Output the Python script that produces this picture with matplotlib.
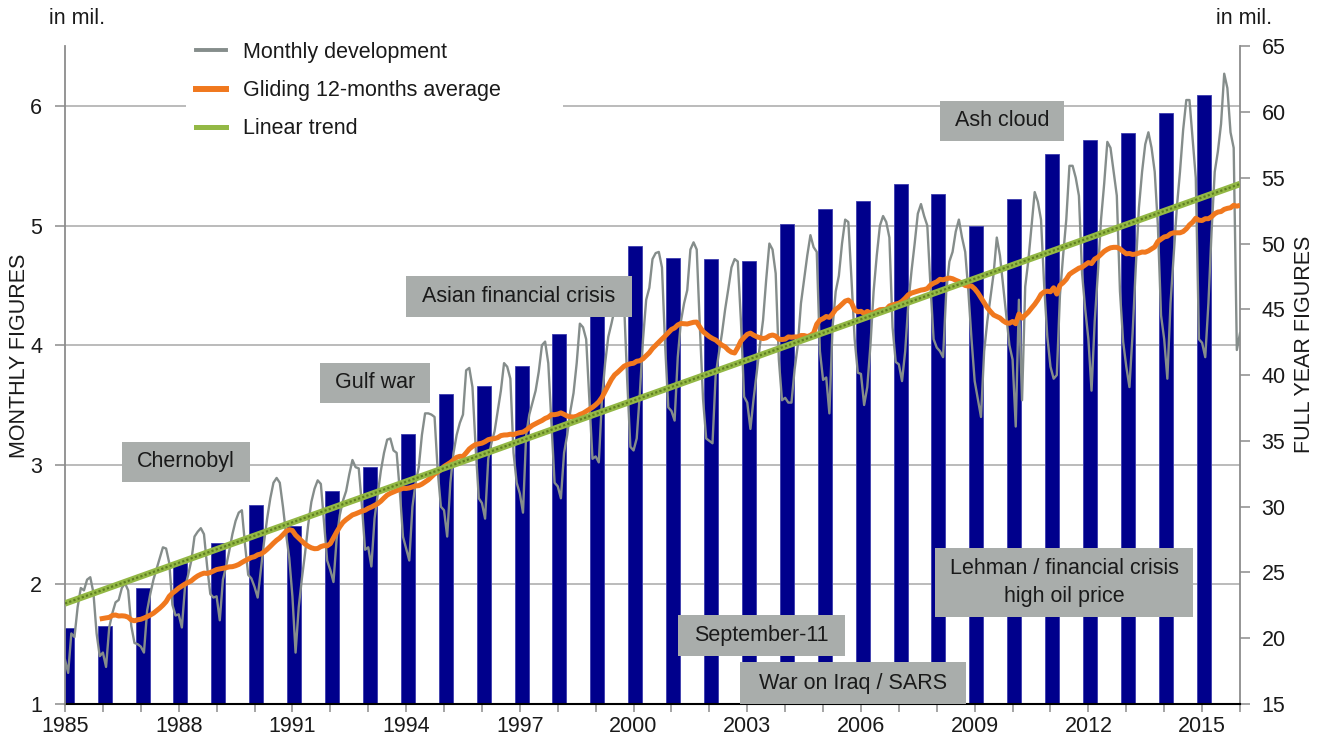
import numpy as np
import pandas as pd
import matplotlib
matplotlib.use('Agg')
import matplotlib.pyplot as plt
import matplotlib.transforms as mtransforms
from matplotlib.patches import Rectangle
from matplotlib.lines import Line2D

plt.rcParams['font.family'] = ['Liberation Sans', 'DejaVu Sans']

# ---- data ----
years = np.arange(1985, 2016)
# full year figures, in mil. (right axis)
annual = [20.8, 20.9, 23.8, 25.7, 27.2, 30.1, 28.5, 31.2, 33.0, 35.5,
          38.6, 39.2, 40.7, 43.1, 44.5, 49.8, 48.9, 48.8, 48.7, 51.5,
          52.6, 53.2, 54.5, 53.8, 51.3, 53.4, 56.8, 57.9, 58.4, 59.9, 61.3]

# monthly figures, in mil. (left axis), Jan..Dec
monthly_by_year = [
    [1.37, 1.26, 1.59, 1.56, 1.81, 1.97, 1.95, 2.04, 2.06, 1.93, 1.59, 1.40],  # 1985
    [1.43, 1.31, 1.64, 1.76, 1.85, 1.87, 1.97, 2.01, 1.95, 1.65, 1.51, 1.50],  # 1986
    [1.48, 1.43, 1.78, 1.92, 2.04, 2.13, 2.22, 2.31, 2.30, 2.18, 1.83, 1.74],  # 1987
    [1.75, 1.64, 1.98, 2.08, 2.20, 2.40, 2.44, 2.47, 2.42, 2.15, 1.92, 1.89],  # 1988
    [1.90, 1.70, 2.04, 2.15, 2.28, 2.42, 2.53, 2.60, 2.62, 2.33, 2.08, 2.05],  # 1989
    [1.98, 1.89, 2.12, 2.35, 2.55, 2.72, 2.85, 2.89, 2.85, 2.65, 2.42, 2.22],  # 1990
    [1.90, 1.43, 1.81, 2.05, 2.26, 2.50, 2.69, 2.80, 2.87, 2.84, 2.52, 2.20],  # 1991
    [2.12, 2.02, 2.38, 2.58, 2.70, 2.78, 2.92, 3.04, 2.98, 2.97, 2.66, 2.29],  # 1992
    [2.31, 2.15, 2.55, 2.75, 2.95, 3.10, 3.21, 3.22, 3.12, 3.10, 2.78, 2.40],  # 1993
    [2.30, 2.20, 2.65, 2.85, 2.98, 3.25, 3.43, 3.43, 3.42, 3.40, 2.95, 2.65],  # 1994
    [2.62, 2.40, 2.85, 3.10, 3.25, 3.35, 3.42, 3.79, 3.81, 3.65, 3.15, 2.72],  # 1995
    [2.68, 2.55, 3.05, 3.18, 3.28, 3.45, 3.62, 3.85, 3.82, 3.72, 3.10, 2.85],  # 1996
    [2.76, 2.60, 3.25, 3.42, 3.52, 3.62, 3.78, 4.00, 4.03, 3.85, 3.35, 2.85],  # 1997
    [2.82, 2.72, 3.10, 3.25, 3.45, 3.60, 3.85, 4.18, 4.15, 4.05, 3.55, 3.05],  # 1998
    [3.07, 3.02, 3.55, 3.85, 4.07, 4.18, 4.30, 4.45, 4.45, 4.35, 3.70, 3.15],  # 1999
    [3.12, 3.22, 3.60, 4.05, 4.38, 4.48, 4.72, 4.77, 4.78, 4.65, 4.00, 3.48],  # 2000
    [3.45, 3.37, 3.90, 4.20, 4.35, 4.46, 4.80, 4.86, 4.80, 4.15, 3.55, 3.22],  # 2001
    [3.20, 3.18, 3.75, 3.93, 4.10, 4.30, 4.47, 4.65, 4.72, 4.70, 4.20, 3.57],  # 2002
    [3.52, 3.30, 3.55, 3.77, 4.00, 4.21, 4.55, 4.85, 4.80, 4.60, 3.88, 3.54],  # 2003
    [3.56, 3.52, 3.52, 3.80, 4.00, 4.35, 4.55, 4.75, 4.92, 4.82, 4.78, 3.95],  # 2004
    [3.71, 3.73, 3.43, 4.15, 4.45, 4.58, 4.85, 5.05, 5.03, 4.55, 4.05, 3.77],  # 2005
    [3.76, 3.50, 3.65, 4.00, 4.45, 4.75, 5.00, 5.08, 5.03, 4.90, 4.15, 3.86],  # 2006
    [3.84, 3.70, 3.95, 4.35, 4.62, 4.85, 5.10, 5.18, 5.08, 5.00, 4.50, 4.05],  # 2007
    [3.98, 3.95, 3.90, 4.45, 4.70, 4.78, 4.95, 5.05, 4.90, 4.78, 4.45, 4.05],  # 2008
    [3.70, 3.55, 3.40, 3.95, 4.20, 4.40, 4.60, 4.90, 4.75, 4.50, 4.25, 4.00],  # 2009
    [3.88, 3.32, 4.38, 3.54, 4.49, 4.71, 5.00, 5.28, 5.20, 5.05, 4.50, 4.07],  # 2010
    [3.82, 3.72, 3.75, 4.42, 4.75, 5.05, 5.50, 5.50, 5.40, 5.25, 4.60, 4.30],  # 2011
    [4.05, 3.62, 4.20, 4.60, 5.05, 5.35, 5.70, 5.65, 5.45, 5.25, 4.45, 4.03],  # 2012
    [3.82, 3.65, 4.10, 4.65, 5.15, 5.45, 5.68, 5.78, 5.65, 5.45, 5.00, 4.25],  # 2013
    [4.05, 3.72, 4.35, 4.75, 5.15, 5.45, 5.80, 6.05, 6.05, 5.72, 5.40, 4.05],  # 2014
    [4.02, 3.90, 4.35, 4.95, 5.45, 5.62, 5.85, 6.27, 6.15, 5.78, 5.65, 3.96],  # 2015
]
monthly_2016 = [4.10]  # Jan 2016

labels = ['Monthly development', 'Gliding 12-months average', 'Linear trend']
events = [
    ('Chernobyl', 122, 442, 250, 482),
    ('Gulf war', 320, 363, 430, 403),
    ('Asian financial crisis', 406, 276, 632, 317),
    ('Ash cloud', 940, 101, 1064, 141),
    ('Lehman / financial crisis\nhigh oil price', 935, 548, 1193, 617),
    ('September-11', 678, 615, 845, 656),
    ('War on Iraq / SARS', 740, 662, 966, 704),
]

# ---- derived series ----
monthly = np.concatenate([np.ravel(monthly_by_year), monthly_2016])
t = 1985 + np.arange(len(monthly)) / 12.0
gliding = pd.Series(monthly).rolling(12).mean()
coef = np.polyfit(t, monthly, 1)
t_trend = np.array([1985, 2016])
trend = np.polyval(coef, t_trend)

W, H = 1325, 742
navy = '#00008c'
gray_line = '#858d8b'
orange = '#f0781e'
green = '#93b845'
axis_gray = '#8c8c8c'
grid_gray = '#a8a8a8'
box_gray = '#a9adab'
txt = '#1a1a1a'
fs = 15.5

fig = plt.figure(figsize=(W / 100, H / 100), dpi=100)
ax = fig.add_axes([65 / W, 1 - 704 / H, (1240 - 65) / W, (704 - 46.2) / H])
ax2 = ax.twinx()

ax.set_xlim(1985, 2016)
ax.set_ylim(15, 65)
ax2.set_ylim(1, 6.5)

# gridlines follow the left axis, behind the bars
gtrans = mtransforms.blended_transform_factory(ax.transAxes, ax2.transData)
for v in range(2, 7):
    ax.plot([0, 1], [v, v], transform=gtrans, color=grid_gray, lw=1.1, zorder=1)

# white legend panel hides the gridline
ax.add_patch(Rectangle((186 / W, 1 - 150 / H), (563 - 186) / W, 118 / H,
                       transform=fig.transFigure, facecolor='white',
                       edgecolor='none', zorder=1.5, clip_on=False))

ax.bar(years + 0.045, annual, width=0.37, color=navy, edgecolor='#3c3cae',
       linewidth=0.6, zorder=2)

ax2.plot(t, monthly, color=gray_line, lw=1.7, zorder=3)
ax2.plot(t, gliding, color=orange, lw=3.6, zorder=4, solid_capstyle='butt')
ax2.plot(t_trend, trend, color=green, lw=4.6, zorder=5, solid_capstyle='butt')
ax2.plot(t_trend, trend, color='#5f7f22', lw=1.6, ls=(0, (1, 1)), zorder=5.1)

# axes styling
ax.yaxis.tick_right()
ax2.yaxis.tick_left()
ax.set_yticks(range(15, 70, 5))
ax2.set_yticks(range(1, 7))
ax.set_xticks(years.tolist() + [2016])
ax.set_xticklabels([str(y) if (y - 1985) % 3 == 0 else '' for y in years] + [''])

for s in ['top', 'left']:
    ax.spines[s].set_visible(False)
ax.spines['right'].set_color(axis_gray)
ax.spines['right'].set_linewidth(1.3)
ax.spines['bottom'].set_color('black')
ax.spines['bottom'].set_linewidth(1.5)
for s in ['top', 'right', 'bottom']:
    ax2.spines[s].set_visible(False)
ax2.spines['left'].set_color(axis_gray)
ax2.spines['left'].set_linewidth(1.3)

ax.tick_params(axis='y', direction='out', length=7, width=1.1, color=axis_gray,
               pad=8.5, labelsize=fs, labelcolor=txt)
ax2.tick_params(axis='y', direction='out', length=7, width=1.1, color=axis_gray,
                pad=9.5, labelsize=fs, labelcolor=txt)
ax.tick_params(axis='x', direction='out', length=6, width=1.1, color=axis_gray,
               pad=3, labelsize=fs, labelcolor=txt)

# legend
handles = [Line2D([], [], color=gray_line, lw=2.8),
           Line2D([], [], color=orange, lw=4.3),
           Line2D([], [], color=green, lw=3.6)]
ax2.legend(handles, labels, loc='upper left', bbox_to_anchor=(196 / W, 1 - 42 / H),
           bbox_transform=fig.transFigure, frameon=False, fontsize=fs,
           handlelength=1.4, handletextpad=0.8, labelspacing=0.8,
           borderpad=0, borderaxespad=0, labelcolor=txt)

# event boxes
for label, x0, y0, x1, y1 in events:
    fig.add_artist(Rectangle((x0 / W, 1 - y1 / H), (x1 - x0) / W, (y1 - y0) / H,
                             transform=fig.transFigure, facecolor=box_gray,
                             edgecolor='none', zorder=5))
    fig.text((x0 + x1) / 2 / W, 1 - (y0 + y1) / 2 / H, label, ha='center',
             va='center', fontsize=fs, color=txt, zorder=6, linespacing=1.45)

fig.text(49 / W, 1 - 18 / H, 'in mil.', ha='left', va='center', fontsize=fs, color=txt)
fig.text(1244 / W, 1 - 18 / H, 'in mil.', ha='center', va='center', fontsize=fs, color=txt)
fig.text(20 / W, 1 - 356 / H, 'MONTHLY FIGURES', rotation=90, ha='center',
         va='center', fontsize=fs, color=txt)
fig.text(1304 / W, 1 - 344 / H, 'FULL YEAR FIGURES', rotation=90, ha='center',
         va='center', fontsize=fs, color=txt)

fig.savefig('out.png', dpi=100)
